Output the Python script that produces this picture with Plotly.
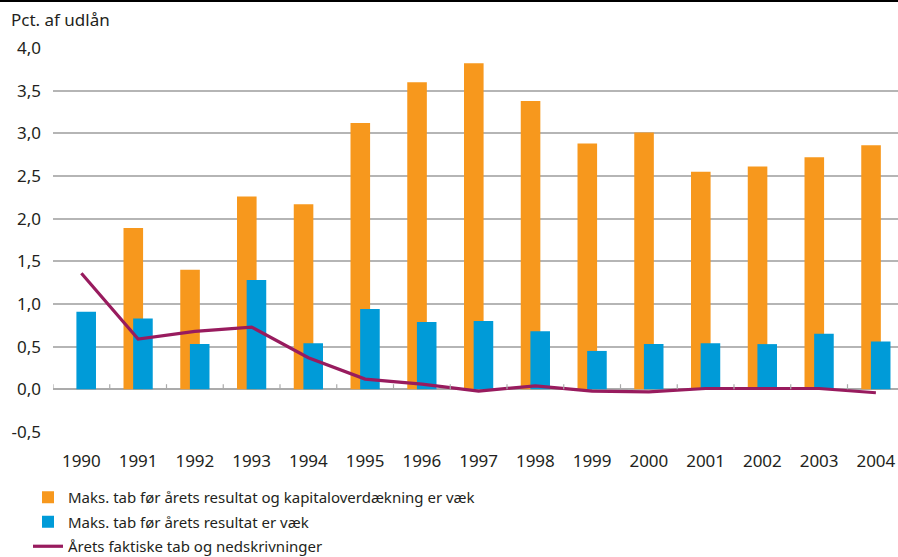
import plotly.graph_objects as go

years = ["1990", "1991", "1992", "1993", "1994", "1995", "1996", "1997",
         "1998", "1999", "2000", "2001", "2002", "2003", "2004"]
maks_kapital = [None, 1.89, 1.40, 2.26, 2.17, 3.12, 3.60, 3.82,
                3.38, 2.88, 3.01, 2.55, 2.61, 2.72, 2.86]
maks_resultat = [0.91, 0.83, 0.53, 1.28, 0.54, 0.94, 0.79, 0.80,
                 0.68, 0.45, 0.53, 0.54, 0.53, 0.65, 0.56]
faktiske_tab = [1.36, 0.59, 0.68, 0.73, 0.37, 0.12, 0.06, -0.02,
                0.04, -0.02, -0.03, 0.01, 0.01, 0.01, -0.04]
y_ticks = [-0.5, 0.0, 0.5, 1.0, 1.5, 2.0, 2.5, 3.0, 3.5, 4.0]
y_ticktext = ["-0,5", "0,0", "0,5", "1,0", "1,5", "2,0", "2,5", "3,0", "3,5", "4,0"]

names = ["Maks. tab før årets resultat og kapitaloverdækning er væk",
         "Maks. tab før årets resultat er væk",
         "Årets faktiske tab og nedskrivninger"]

FONT = "Noto Sans"
TXT = "#231f20"
W = 898
H = 557
L, T, B = 53, 48, 125
bw = 0.345
shift = 0.085

fig = go.Figure()
fig.add_trace(go.Bar(x=years, y=maks_kapital, name=names[0], marker_color="#F7981D",
                     width=bw, offset=-bw / 2 - shift, marker_line_width=0,
                     legendgroup="a"))
fig.add_trace(go.Bar(x=years, y=maks_resultat, name=names[1], marker_color="#009BD8",
                     width=bw, offset=-bw / 2 + shift, marker_line_width=0,
                     legendgroup="b"))
fig.add_trace(go.Scatter(x=years, y=faktiske_tab, name=names[2], mode="lines",
                         line=dict(color="#981B5E", width=3.2), legendgroup="c"))

plot_w = W - L
cat_px = 56.75
x_hi = -0.5 + plot_w / cat_px

shapes = []
for i in range(len(years)):
    shapes.append(dict(type="line", xref="x", yref="y", x0=i - 0.5, x1=i - 0.5,
                       y0=0, y1=0.06, line=dict(color="#ABABAB", width=1.2)))
shapes.append(dict(type="line", xref="paper", yref="paper", x0=-0.2, x1=1.1,
                   y0=1 + (T - 1) / (H - T - B), y1=1 + (T - 1) / (H - T - B),
                   line=dict(color="#000000", width=2.2)))

fig.update_layout(
    width=W, height=H,
    margin=dict(l=L, r=0, t=T, b=B, autoexpand=False),
    plot_bgcolor="white", paper_bgcolor="white",
    barmode="overlay",
    font=dict(family=FONT, size=16, color=TXT),
    showlegend=True,
    legend=dict(xref="container", yref="container", x=28 / W, xanchor="left",
                y=1 - 481 / H, yanchor="top", font=dict(size=15, color=TXT),
                bgcolor="rgba(0,0,0,0)", traceorder="grouped", tracegroupgap=2),
    title=dict(text="Pct. af udlån", xref="container", yref="container",
               x=11 / W, xanchor="left", y=1 - 20 / H, yanchor="middle",
               font=dict(family=FONT, size=17, color=TXT)),
    shapes=shapes,
)
fig.update_xaxes(type="category", range=[-0.5, x_hi], showgrid=False, zeroline=False,
                 showline=False, ticks="", ticklabelstandoff=17, tickangle=0,
                 tickfont=dict(size=17, color=TXT))
fig.update_yaxes(range=[-0.5, 4.0], tickvals=y_ticks, ticktext=y_ticktext,
                 showgrid=True, gridcolor="#B5B5B5", gridwidth=1.5,
                 zeroline=True, zerolinecolor="#ABABAB", zerolinewidth=1.5,
                 showline=False, ticks="", ticklabelstandoff=11,
                 tickfont=dict(size=17, color=TXT))

fig.write_html("out.html", config={"displayModeBar": False},
               post_script="document.body.style.margin='0';document.body.style.overflow='hidden';")
